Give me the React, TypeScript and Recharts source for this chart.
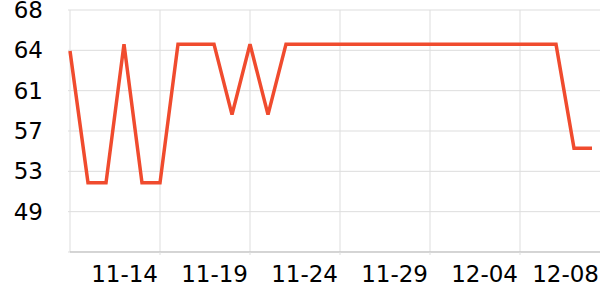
import { CartesianGrid, Line, LineChart, XAxis, YAxis } from 'recharts'

const dates = [
  '11-09', '11-10', '11-11', '11-12', '11-13', '11-14', '11-15', '11-16', '11-17', '11-18',
  '11-19', '11-20', '11-21', '11-22', '11-23', '11-24', '11-25', '11-26', '11-27', '11-28',
  '11-29', '11-30', '12-01', '12-02', '12-03', '12-04', '12-05', '12-06', '12-07', '12-08',
]

const values = [
  64.35, 52, 52, 65, 52, 52, 65, 65, 65, 58.4,
  65, 58.4, 65, 65, 65, 65, 65, 65, 65, 65,
  65, 65, 65, 65, 65, 65, 65, 65, 55.25, 55.25,
]

// labelled dates on the x axis; grid lines only where there is a tick mark
const xLabelDates = ['11-14', '11-19', '11-24', '11-29', '12-04', '12-08']
const xGridDates = ['11-09', '11-14', '11-19', '11-24', '11-29', '12-04']

const yTicks = [45.52, 49.3, 53.08, 56.86, 60.64, 64.42, 68.2]

const data = dates.map((d, i) => ({ date: d, value: values[i] }))

const FONT = 'DejaVu Sans, sans-serif'
const GRID = '#dddddd'

function XTick(props: any) {
  const { x, y, payload } = props
  const isLast = payload.value === xLabelDates[xLabelDates.length - 1]
  return (
    <g>
      {!isLast && <line x1={x} x2={x} y1={y} y2={y + 3} stroke={GRID} />}
      <text
        x={isLast ? x + 7 : x - 2}
        y={y + 14}
        dy="0.71em"
        textAnchor="end"
        fill="#000"
        fontSize={23}
        fontFamily={FONT}
      >
        {payload.value}
      </text>
    </g>
  )
}

export default function App() {
  return (
    <div style={{ width: 600, height: 300, background: '#fff' }}>
      <style>{`body{margin:0}`}</style>
      <LineChart width={600} height={300} data={data} margin={{ top: 10, right: 0, bottom: 0, left: 0 }}>
        <CartesianGrid stroke={GRID} verticalValues={xGridDates} horizontalValues={yTicks} />
        <XAxis
          dataKey="date"
          ticks={xLabelDates}
          interval={0}
          height={48}
          padding={{ left: 0, right: 8 }}
          axisLine={{ stroke: '#bbbbbb' }}
          tickLine={false}
          tickSize={0}
          tickMargin={0}
          tick={<XTick />}
        />
        <YAxis
          width={70}
          domain={[yTicks[0], yTicks[yTicks.length - 1]]}
          ticks={yTicks}
          interval={0}
          axisLine={false}
          tickLine={{ stroke: GRID }}
          tickSize={2}
          tickMargin={25}
          tickFormatter={(v: number) => (v === yTicks[0] ? '' : String(Math.round(v)))}
          tick={{ fill: '#000', fontSize: 23, fontFamily: FONT }}
        />
        <Line
          type="linear"
          dataKey="value"
          stroke="#f04b2e"
          strokeWidth={3.5}
          dot={false}
          isAnimationActive={false}
        />
      </LineChart>
    </div>
  )
}
